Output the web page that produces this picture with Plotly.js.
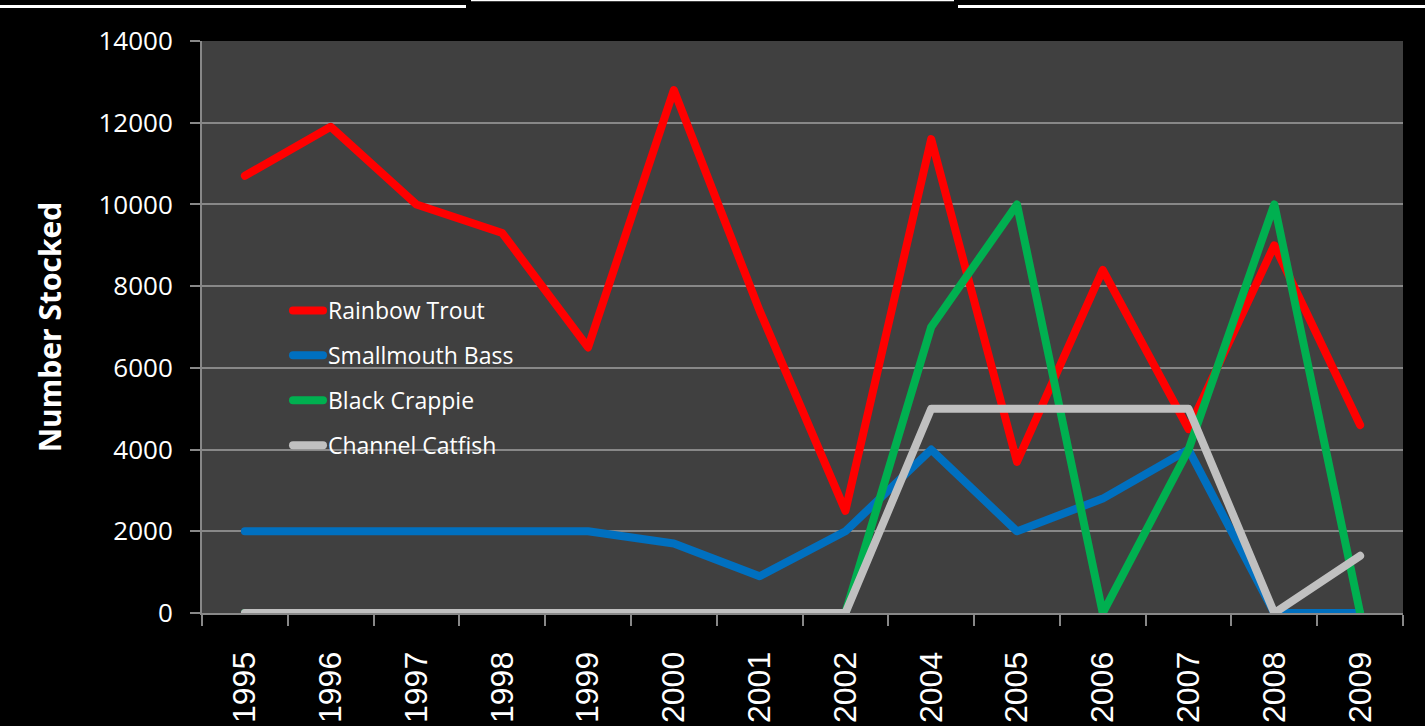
<!DOCTYPE html>
<html>
<head>
<meta charset="utf-8">
<script src="https://cdn.plot.ly/plotly-3.0.1.min.js"></script>
<style>
html,body{margin:0;padding:0;background:#000;}
#chart{width:1425px;height:726px;}
.scatterlayer path.js-line, .legendlines path{stroke-linejoin:round;stroke-linecap:round;}
</style>
</head>
<body>
<div id="chart"></div>
<script>
const years = ['1995','1996','1997','1998','1999','2000','2001','2002','2004','2005','2006','2007','2008','2009'];
const rainbowTrout   = [10700,11900,10000,9300,6500,12800,7400,2500,11600,3700,8400,4500,9000,4600];
const smallmouthBass = [2000,2000,2000,2000,2000,1700,900,2000,4000,2000,2800,4000,0,0];
const blackCrappie   = [0,0,0,0,0,0,0,0,7000,10000,0,4000,10000,0];
const channelCatfish = [0,0,0,0,0,0,0,0,5000,5000,5000,5000,0,1400];
const seriesNames = ['Rainbow Trout','Smallmouth Bass','Black Crappie','Channel Catfish'];
const yTickVals = [0,2000,4000,6000,8000,10000,12000,14000];

const colors = ['#FF0000','#0070C0','#00B050','#C0C0C0'];
const allSeries = [rainbowTrout, smallmouthBass, blackCrappie, channelCatfish];

const traces = allSeries.map((vals,i)=>({
  type:'scatter', mode:'lines', x:years, y:vals, name:seriesNames[i],
  legendgroup:'g'+i,
  line:{color:colors[i], width:8}
}));

const L=202, R=22, T=41, B=113;
const W=1425-L-R, H=726-T-B;
const px = x => (x-L)/W;
const py = y => (726-B-y)/H;

const layout = {
  width:1425, height:726,
  margin:{l:L, r:R, t:T, b:B, pad:0},
  paper_bgcolor:'#000000',
  plot_bgcolor:'#404040',
  showlegend:true,
  legend:{
    x:px(288), y:py(289), xanchor:'left', yanchor:'top',
    bgcolor:'rgba(0,0,0,0)',
    font:{family:'Open Sans, sans-serif', size:23, color:'#FFFFFF'},
    traceorder:'grouped', tracegroupgap:12,
    itemwidth:30
  },
  xaxis:{
    type:'category',
    range:[-0.5, years.length-0.5],
    tickmode:'array', tickvals:years, ticktext:years,
    tickson:'boundaries',
    ticks:'outside', ticklen:11, tickcolor:'#888888', tickwidth:2,
    showline:true, linecolor:'#888888', linewidth:2,
    showgrid:false, zeroline:false,
    tickangle:-90,
    ticklabelstandoff:24,
    tickfont:{family:'Liberation Sans, Arial, sans-serif', size:32, color:'#FFFFFF'},
    fixedrange:true
  },
  yaxis:{
    range:[0,14000],
    tickmode:'array', tickvals:yTickVals, ticktext:yTickVals.map(String),
    ticks:'outside', ticklen:10, tickcolor:'#888888', tickwidth:2,
    showline:true, linecolor:'#888888', linewidth:2,
    showgrid:true, gridcolor:'#888888', gridwidth:2,
    zeroline:false,
    ticklabelstandoff:12,
    tickfont:{family:'Open Sans, sans-serif', size:26, color:'#FFFFFF'},
    title:{text:'Number Stocked', font:{family:'Open Sans, sans-serif', size:30, color:'#FFFFFF', weight:'bold'}, standoff:28},
    fixedrange:true
  },
  shapes:[
    {type:'line', xref:'paper', yref:'paper', x0:px(0), x1:px(466), y0:py(6.5), y1:py(6.5), line:{color:'#FFFFFF', width:3}},
    {type:'line', xref:'paper', yref:'paper', x0:px(471), x1:px(954), y0:py(0.5), y1:py(0.5), line:{color:'#FFFFFF', width:1.5}},
    {type:'line', xref:'paper', yref:'paper', x0:px(958), x1:px(1425), y0:py(6.5), y1:py(6.5), line:{color:'#FFFFFF', width:3}}
  ]
};

Plotly.newPlot('chart', traces, layout, {displayModeBar:false, staticPlot:true});
</script>
</body>
</html>
